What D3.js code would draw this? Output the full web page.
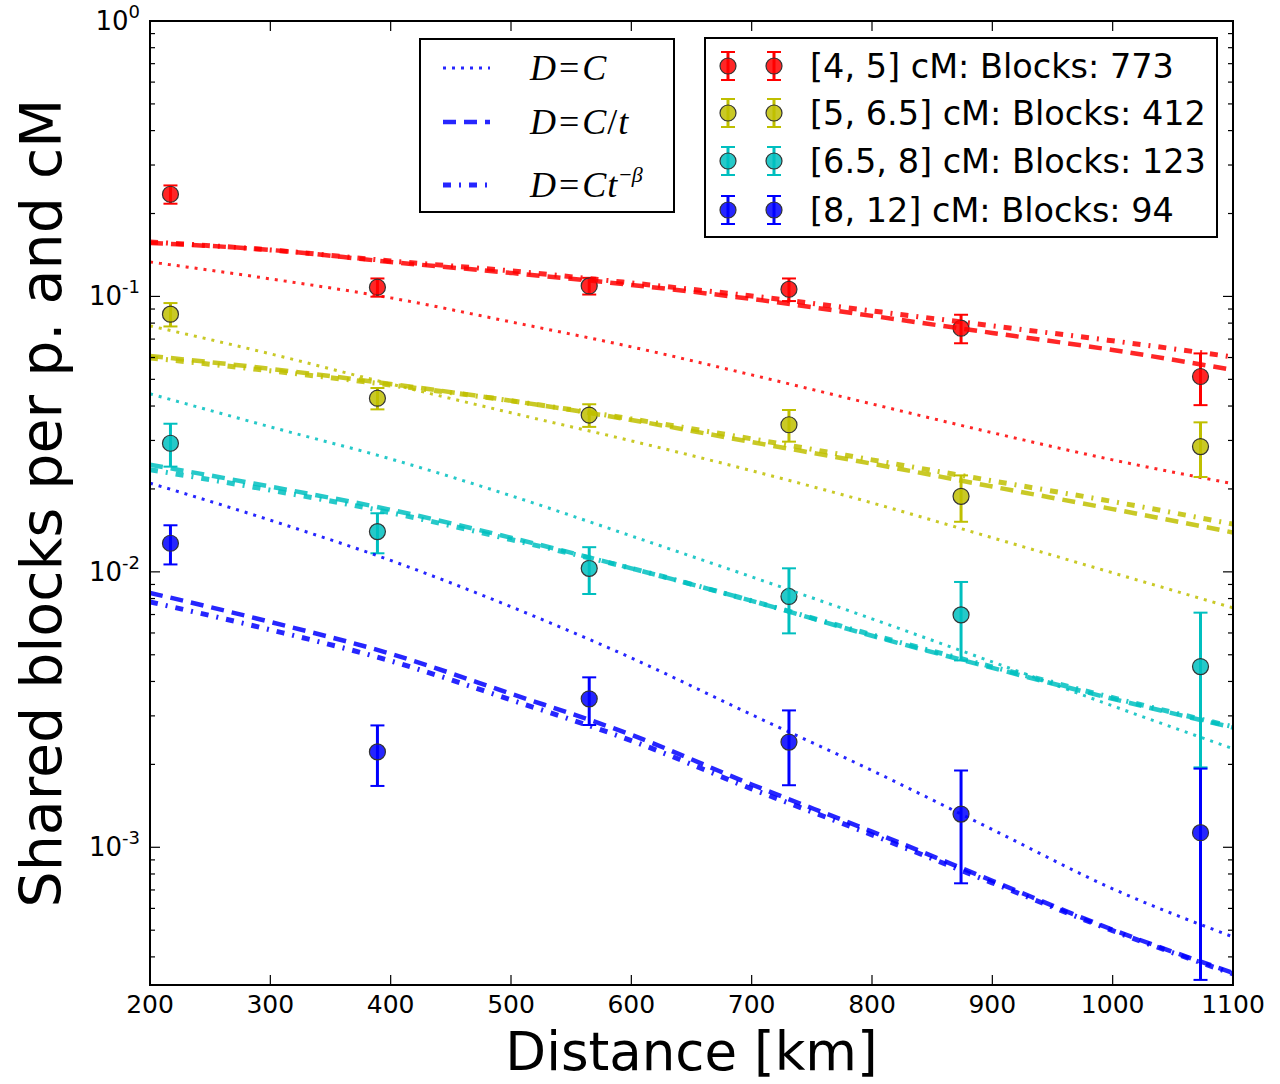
<!DOCTYPE html>
<html>
<head>
<meta charset="utf-8">
<script src="https://cdn.jsdelivr.net/npm/d3@7"></script>
<style>
  html, body { margin: 0; padding: 0; background: #fff; }
  svg { display: block; }
  text { font-family: "DejaVu Sans", sans-serif; fill: #000; }
  .math { font-family: "Liberation Serif", "DejaVu Serif", serif; }
</style>
</head>
<body>
<svg id="chart" width="1280" height="1084"></svg>
<script>
// ---- observed sharing rates (mean and standard error) per distance bin ----
const distances = [217, 389, 565, 731, 874, 1073];

const groupLabels = [
  "[4, 5] cM: Blocks: 773",
  "[5, 6.5] cM: Blocks: 412",
  "[6.5, 8] cM: Blocks: 123",
  "[8, 12] cM: Blocks: 94"
];
const groupColors = ["#ff0000", "#bfbf00", "#00bfbf", "#0000ff"];

const sharedRed    = [0.2350, 0.1080, 0.1092, 0.1062, 0.0767, 0.0512];
const errRed       = [0.0179, 0.0082, 0.0076, 0.0100, 0.0091, 0.0109];
const sharedYellow = [0.0862, 0.0427, 0.0371, 0.0342, 0.0188, 0.0285];
const errYellow    = [0.0084, 0.0038, 0.0035, 0.0045, 0.0036, 0.0064];
const sharedCyan   = [0.0293, 0.0140, 0.0103, 0.00814, 0.00698, 0.00453];
const errCyan      = [0.0052, 0.00232, 0.00199, 0.00216, 0.00221, 0.00258];
const sharedBlue   = [0.0127, 0.00222, 0.00346, 0.00241, 0.00132, 0.00113];
const errBlue      = [0.00206, 0.00055, 0.00068, 0.00073, 0.00058, 0.00080];

// ---- fitted model curves sampled along distance ----
const fitDistances = [200, 300, 400, 500, 600, 700, 800, 900, 1000, 1100];

const fitConstRed    = [0.1334, 0.1158, 0.0988, 0.0808, 0.0656, 0.0519, 0.0407, 0.0320, 0.0255, 0.0209];
const fitInvRed      = [0.1564, 0.1475, 0.1334, 0.1217, 0.1101, 0.0979, 0.0850, 0.0737, 0.0639, 0.0541];
const fitPowRed      = [0.1577, 0.1475, 0.1345, 0.1238, 0.1119, 0.1004, 0.0886, 0.0782, 0.0690, 0.0603];
const fitConstYellow = [0.0782, 0.0619, 0.0481, 0.0378, 0.0299, 0.0233, 0.0178, 0.0133, 0.00992, 0.00740];
const fitInvYellow   = [0.0608, 0.0546, 0.0481, 0.0418, 0.0356, 0.0296, 0.0247, 0.0204, 0.0169, 0.0139];
const fitPowYellow   = [0.0598, 0.0537, 0.0477, 0.0418, 0.0359, 0.0304, 0.0255, 0.0214, 0.0180, 0.0149];
const fitConstCyan   = [0.0443, 0.0336, 0.0257, 0.0189, 0.0135, 0.00959, 0.00675, 0.00471, 0.00326, 0.00228];
const fitInvCyan     = [0.0245, 0.0204, 0.0168, 0.0133, 0.0103, 0.00785, 0.00586, 0.00448, 0.00346, 0.00272];
const fitPowCyan     = [0.0235, 0.0198, 0.0164, 0.0131, 0.0103, 0.00785, 0.00591, 0.00452, 0.00349, 0.00274];
const fitConstBlue   = [0.0210, 0.0154, 0.0110, 0.00747, 0.00487, 0.00303, 0.00190, 0.00116, 0.000707, 0.000473];
const fitInvBlue     = [0.00839, 0.00658, 0.00504, 0.00361, 0.00256, 0.00169, 0.00114, 0.000756, 0.000502, 0.000350];
const fitPowBlue     = [0.00778, 0.00616, 0.00475, 0.00343, 0.00244, 0.00163, 0.00111, 0.000743, 0.000498, 0.000347];

// ---- axis ticks ----
const xTicks = [200, 300, 400, 500, 600, 700, 800, 900, 1000, 1100];
const yDecadeExponents = [0, -1, -2, -3];

// ---- assemble series ----
const groups = [
  { label: groupLabels[0], color: groupColors[0], mean: sharedRed,    err: errRed,    fits: [fitConstRed, fitInvRed, fitPowRed] },
  { label: groupLabels[1], color: groupColors[1], mean: sharedYellow, err: errYellow, fits: [fitConstYellow, fitInvYellow, fitPowYellow] },
  { label: groupLabels[2], color: groupColors[2], mean: sharedCyan,   err: errCyan,   fits: [fitConstCyan, fitInvCyan, fitPowCyan] },
  { label: groupLabels[3], color: groupColors[3], mean: sharedBlue,   err: errBlue,   fits: [fitConstBlue, fitInvBlue, fitPowBlue] }
];

// line styles for the three models: D=C (dotted), D=C/t (dashed), D=Ct^-beta (dash-dot)
const modelStyles = [
  { width: 3,   dash: "3,6" },
  { width: 4.5, dash: "13,8" },
  { width: 5,   dash: "8,8,2,8" }
];

const svg = d3.select("#chart");
const plot = { left: 150, right: 1233, top: 21, bottom: 985 };

const x = d3.scaleLinear().domain([200, 1100]).range([plot.left, plot.right]);
const y = d3.scaleLog().domain([Math.pow(10, -3.5), 1]).range([plot.bottom, plot.top]);

svg.append("defs").append("clipPath").attr("id", "plotClip")
  .append("rect")
  .attr("x", plot.left).attr("y", plot.top)
  .attr("width", plot.right - plot.left).attr("height", plot.bottom - plot.top);

const layer = svg.append("g").attr("clip-path", "url(#plotClip)");

const line = d3.line()
  .x(d => x(d[0]))
  .y(d => y(d[1]))
  .curve(d3.curveMonotoneX);

const capHalf = 7;

groups.forEach(g => {
  const g0 = layer.append("g");
  // error bars
  distances.forEach((dist, i) => {
    const lo = g.mean[i] - g.err[i];
    const hi = g.mean[i] + g.err[i];
    const cx = x(dist);
    g0.append("line")
      .attr("x1", cx).attr("x2", cx)
      .attr("y1", y(hi)).attr("y2", y(lo))
      .attr("stroke", g.color).attr("stroke-width", 3);
    [hi, lo].forEach(v => {
      g0.append("line")
        .attr("x1", cx - capHalf).attr("x2", cx + capHalf)
        .attr("y1", y(v)).attr("y2", y(v))
        .attr("stroke", g.color).attr("stroke-width", 2);
    });
  });
  // markers
  g0.selectAll("circle.pt").data(distances.map((d, i) => [d, g.mean[i]]))
    .enter().append("circle")
    .attr("class", "pt")
    .attr("cx", d => x(d[0])).attr("cy", d => y(d[1]))
    .attr("r", 8)
    .attr("fill", g.color).attr("fill-opacity", 0.85)
    .attr("stroke", "#333").attr("stroke-width", 1.2);
  // fitted model curves
  g.fits.forEach((vals, k) => {
    layer.append("path")
      .datum(fitDistances.map((d, i) => [d, vals[i]]))
      .attr("d", line)
      .attr("fill", "none")
      .attr("stroke", g.color)
      .attr("stroke-opacity", 0.85)
      .attr("stroke-width", modelStyles[k].width)
      .attr("stroke-dasharray", modelStyles[k].dash);
  });
});

// ---- frame and ticks ----
const axes = svg.append("g");
axes.append("rect")
  .attr("x", plot.left).attr("y", plot.top)
  .attr("width", plot.right - plot.left).attr("height", plot.bottom - plot.top)
  .attr("fill", "none").attr("stroke", "#000").attr("stroke-width", 2);

const majorLen = 10, minorLen = 5;

xTicks.forEach(t => {
  const px = x(t);
  axes.append("line").attr("x1", px).attr("x2", px)
    .attr("y1", plot.bottom).attr("y2", plot.bottom - majorLen)
    .attr("stroke", "#000").attr("stroke-width", 1.2);
  axes.append("line").attr("x1", px).attr("x2", px)
    .attr("y1", plot.top).attr("y2", plot.top + majorLen)
    .attr("stroke", "#000").attr("stroke-width", 1.2);
  axes.append("text")
    .attr("x", px).attr("y", plot.bottom + 28)
    .attr("text-anchor", "middle")
    .attr("font-size", 25)
    .text(t);
});

// minor ticks at 2..9 x decade
const [yMin, yMax] = y.domain();
for (let e = -4; e <= 0; e++) {
  for (let m = 1; m <= 9; m++) {
    const v = m * Math.pow(10, e);
    if (v < yMin * 0.9999 || v > yMax * 1.0001) continue;
    const py = y(v);
    const len = (m === 1) ? majorLen : minorLen;
    axes.append("line").attr("x1", plot.left).attr("x2", plot.left + len)
      .attr("y1", py).attr("y2", py).attr("stroke", "#000").attr("stroke-width", 1.2);
    axes.append("line").attr("x1", plot.right).attr("x2", plot.right - len)
      .attr("y1", py).attr("y2", py).attr("stroke", "#000").attr("stroke-width", 1.2);
  }
}

yDecadeExponents.forEach(e => {
  const py = y(Math.pow(10, e));
  const t = axes.append("text")
    .attr("x", plot.left - 10).attr("y", py + 9)
    .attr("text-anchor", "end")
    .attr("font-size", 26);
  t.append("tspan").text("10");
  t.append("tspan").attr("font-size", 18).attr("dy", -12).text(String(e));
});

// axis titles
svg.append("text")
  .attr("x", (plot.left + plot.right) / 2).attr("y", 1070)
  .attr("text-anchor", "middle")
  .attr("font-size", 53)
  .text("Distance [km]");

svg.append("text")
  .attr("transform", `translate(61, ${(plot.top + plot.bottom) / 2}) rotate(-90)`)
  .attr("text-anchor", "middle")
  .attr("font-size", 57)
  .text("Shared blocks per p. and cM");

// ---- legend: model line styles ----
const leg1 = svg.append("g");
leg1.append("rect")
  .attr("x", 420).attr("y", 39).attr("width", 254).attr("height", 173)
  .attr("fill", "#fff").attr("stroke", "#000").attr("stroke-width", 2);

const modelRows = [68, 122, 185];
const modelLabels = [
  [["D", true, 0], ["=", false, 3], ["C", true, 3]],
  [["D", true, 0], ["=", false, 3], ["C", true, 3], ["/", false, 1], ["t", true, 1]],
  [["D", true, 0], ["=", false, 3], ["C", true, 3], ["t", true, 1]]
];
modelStyles.forEach((s, k) => {
  leg1.append("line")
    .attr("x1", 443).attr("x2", 490)
    .attr("y1", modelRows[k]).attr("y2", modelRows[k])
    .attr("stroke", "#0000ff").attr("stroke-opacity", 0.85)
    .attr("stroke-width", s.width).attr("stroke-dasharray", s.dash);
  const t = leg1.append("text")
    .attr("class", "math")
    .attr("x", 530).attr("y", modelRows[k] + 12)
    .attr("font-size", 36);
  modelLabels[k].forEach(([txt, it, gap]) => {
    t.append("tspan").attr("dx", gap).attr("font-style", it ? "italic" : "normal").text(txt);
  });
  if (k === 2) {
    t.append("tspan").attr("font-size", 22).attr("dx", 2).attr("dy", -15).text("−");
    t.append("tspan").attr("font-size", 22).attr("font-style", "italic").text("β");
  }
});

// ---- legend: observed groups ----
const leg2 = svg.append("g");
leg2.append("rect")
  .attr("x", 705).attr("y", 38).attr("width", 512).attr("height", 199)
  .attr("fill", "#fff").attr("stroke", "#000").attr("stroke-width", 2);

const groupRows = [66, 113, 161, 210];
groups.forEach((g, k) => {
  const cy = groupRows[k];
  [728, 774].forEach(cx => {
    leg2.append("line").attr("x1", cx).attr("x2", cx)
      .attr("y1", cy - 14).attr("y2", cy + 14)
      .attr("stroke", g.color).attr("stroke-width", 3);
    [cy - 14, cy + 14].forEach(yy => {
      leg2.append("line").attr("x1", cx - capHalf).attr("x2", cx + capHalf)
        .attr("y1", yy).attr("y2", yy)
        .attr("stroke", g.color).attr("stroke-width", 2);
    });
    leg2.append("circle").attr("cx", cx).attr("cy", cy).attr("r", 8)
      .attr("fill", g.color).attr("fill-opacity", 0.85)
      .attr("stroke", "#333").attr("stroke-width", 1.2);
  });
  leg2.append("text")
    .attr("x", 810).attr("y", cy + 12)
    .attr("font-size", 33.5)
    .text(g.label);
});
</script>
</body>
</html>
